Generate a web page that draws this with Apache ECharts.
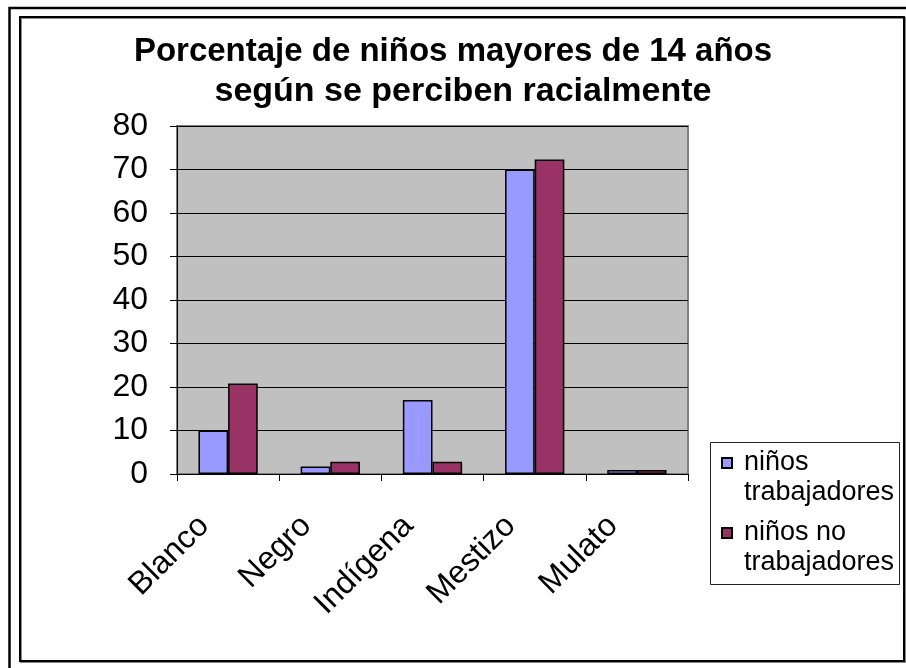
<!DOCTYPE html>
<html>
<head>
<meta charset="utf-8">
<script src="https://cdn.jsdelivr.net/npm/echarts@6/dist/echarts.min.js"></script>
<style>
html,body{margin:0;padding:0;background:#fff;}
#chart{width:906px;height:668px;}
</style>
</head>
<body>
<div id="chart"></div>
<script>
const categories = ['Blanco', 'Negro', 'Indígena', 'Mestizo', 'Mulato'];
const seriesNames = ['niños trabajadores', 'niños no trabajadores'];
const trabajadores = [10, 1.7, 17, 70, 0.9];
const noTrabajadores = [20.8, 2.8, 2.8, 72.3, 0.9];
const yTicks = { min: 0, max: 80, interval: 10 };
const titleLines = ['Porcentaje de niños mayores de 14 años', 'según se perciben racialmente'];

const FONT = 'Arial, "Liberation Sans", sans-serif';
const chart = echarts.init(document.getElementById('chart'), null, { renderer: 'canvas' });

function legendFmt(name) {
  const parts = name.split(' ');
  const last = parts.pop();
  return '{t| }\n{g|}{t|' + parts.join(' ') + '}\n{g|}{t|' + last + '}';
}

const legendCommon = {
  orient: 'vertical',
  left: 721,
  padding: 0,
  itemWidth: 10,
  itemHeight: 10,
  itemGap: 0,
  icon: 'rect',
  textStyle: {
    fontFamily: FONT, fontSize: 27, color: '#000', lineHeight: 30,
    rich: {
      t: { fontFamily: FONT, fontSize: 27, color: '#000', lineHeight: 30 },
      g: { width: 7, lineHeight: 30 }
    }
  },
  formatter: legendFmt,
  selectedMode: false
};

chart.setOption({
  backgroundColor: '#fff',
  animation: false,
  title: {
    text: '{a|' + titleLines[0] + '}\n{b|' + titleLines[1] + '}',
    left: 'center',
    top: 32,
    padding: 0,
    textStyle: {
      fontFamily: FONT, fontSize: 33, fontWeight: 'bold', color: '#000', lineHeight: 40,
      rich: {
        a: { fontFamily: FONT, fontSize: 33, fontWeight: 'bold', color: '#000', lineHeight: 40 },
        b: { fontFamily: FONT, fontSize: 34, fontWeight: 'bold', color: '#000', lineHeight: 40, padding: [0, 0, 0, 20] }
      }
    }
  },
  legend: [
    Object.assign({}, legendCommon, { top: 418, data: [seriesNames[0]] }),
    Object.assign({}, legendCommon, { top: 488, data: [seriesNames[1]] })
  ],
  grid: {
    left: 177, right: 218, top: 126, bottom: 194,
    show: true, backgroundColor: '#c0c0c0', borderColor: '#808080', borderWidth: 2
  },
  xAxis: {
    type: 'category',
    data: categories,
    axisLine: { lineStyle: { color: '#000', width: 1 } },
    axisTick: { show: true, length: 7, lineStyle: { color: '#000' } },
    axisLabel: {
      rotate: 45, fontFamily: FONT, fontSize: 32, color: '#000',
      margin: 23, padding: [0, 34, 0, 0], interval: 0
    }
  },
  yAxis: {
    type: 'value',
    min: yTicks.min, max: yTicks.max, interval: yTicks.interval,
    axisLine: { show: true, lineStyle: { color: '#000', width: 1 } },
    axisTick: { show: true, length: 7, lineStyle: { color: '#000' } },
    splitLine: { show: true, lineStyle: { color: '#000', width: 1 } },
    axisLabel: { fontFamily: FONT, fontSize: 32, color: '#000', margin: 29 }
  },
  series: [
    {
      name: seriesNames[0], type: 'bar', data: trabajadores,
      barGap: '0%', barCategoryGap: '42%',
      itemStyle: { color: '#9999ff', borderColor: '#000', borderWidth: 1.5 }
    },
    {
      name: seriesNames[1], type: 'bar', data: noTrabajadores,
      barGap: '0%', barCategoryGap: '42%',
      itemStyle: { color: '#993366', borderColor: '#000', borderWidth: 1.5 }
    }
  ],
  graphic: [
    { type: 'rect', shape: { x: 9.5, y: 8, width: 1000, height: 1000 }, style: { fill: 'none', stroke: '#000', lineWidth: 2.5 }, silent: true },
    { type: 'rect', shape: { x: 20, y: 17, width: 884, height: 644 }, style: { fill: 'none', stroke: '#000', lineWidth: 2, shadowColor: '#888', shadowOffsetX: 1, shadowOffsetY: 1, shadowBlur: 0 }, silent: true },
    { type: 'rect', shape: { x: 710.5, y: 442.5, width: 189, height: 142 }, style: { fill: 'none', stroke: '#222', lineWidth: 1 }, silent: true }
  ]
});
</script>
</body>
</html>
